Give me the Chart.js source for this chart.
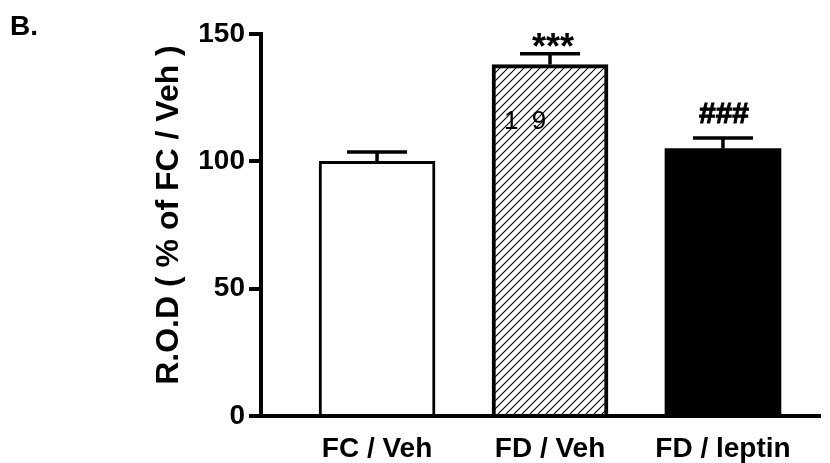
<!DOCTYPE html>
<html>
<head>
<meta charset="utf-8">
<script src="https://cdn.jsdelivr.net/npm/chart.js@4/dist/chart.umd.min.js"></script>
<style>
html,body{margin:0;padding:0;background:#fff;}
#wrap{width:830px;height:463px;position:relative;}
</style>
</head>
<body>
<div id="wrap"><canvas id="c" width="830" height="463"></canvas></div>
<script>
const categories = ['FC / Veh', 'FD / Veh', 'FD / leptin'];
const values = [100, 138, 105];
const sem = [3.7, 4.2, 4.2];
const marks = ['', '***', '###'];
const yTicks = [0, 50, 100, 150];
const yTitle = 'R.O.D ( % of FC / Veh )';
const panelLabel = 'B.';
const barNote = '1 9';

const FONT = '"Liberation Sans", Arial, Helvetica, sans-serif';

function hatch() {
  const s = 8;
  const p = document.createElement('canvas');
  p.width = s; p.height = s;
  const g = p.getContext('2d');
  g.fillStyle = '#fff'; g.fillRect(0, 0, s, s);
  g.strokeStyle = '#000'; g.lineWidth = 1.1;
  g.beginPath();
  g.moveTo(0, s); g.lineTo(s, 0);
  g.moveTo(-1, 1); g.lineTo(1, -1);
  g.moveTo(s - 1, s + 1); g.lineTo(s + 1, s - 1);
  g.stroke();
  return document.getElementById('c').getContext('2d').createPattern(p, 'repeat');
}

const extras = {
  id: 'extras',
  afterDatasetsDraw(chart) {
    const ctx = chart.ctx;
    const y = chart.scales.y;
    const meta = chart.getDatasetMeta(0);
    ctx.save();
    ctx.strokeStyle = '#000';
    ctx.lineWidth = 3.5;
    meta.data.forEach((bar, i) => {
      const top = y.getPixelForValue(values[i] + sem[i]);
      const base = y.getPixelForValue(values[i]);
      ctx.beginPath();
      ctx.moveTo(bar.x, base);
      ctx.lineTo(bar.x, top);
      ctx.moveTo(bar.x - 30, top);
      ctx.lineTo(bar.x + 30, top);
      ctx.stroke();
      ctx.fillStyle = '#000';
      ctx.textAlign = 'center';
      ctx.textBaseline = 'alphabetic';
      if (marks[i] === '***') {
        ctx.font = 'bold 36px ' + FONT;
        ctx.fillText(marks[i], bar.x + 3, top + 5);
      } else if (marks[i]) {
        ctx.font = 'bold 30px ' + FONT;
        ctx.lineWidth = 1;
        ctx.fillText(marks[i], bar.x + 1, top - 15);
        ctx.strokeText(marks[i], bar.x + 1, top - 15);
      }
    });
    const b1 = meta.data[1];
    ctx.font = '26px ' + FONT;
    ctx.textAlign = 'left';
    ctx.letterSpacing = '3px';
    ctx.fillText(barNote, b1.x - 46, 129);
    ctx.restore();
  },
  afterDraw(chart) {
    const ctx = chart.ctx;
    ctx.save();
    ctx.fillStyle = '#000';
    ctx.font = 'bold 28px ' + FONT;
    ctx.textAlign = 'left';
    ctx.textBaseline = 'alphabetic';
    ctx.fillText(panelLabel, 10, 35);
    ctx.translate(178, 215);
    ctx.rotate(-Math.PI / 2);
    ctx.textAlign = 'center';
    ctx.font = 'bold 32px ' + FONT;
    ctx.fillText(yTitle, 0, 0);
    ctx.restore();
  }
};

const chart = new Chart(document.getElementById('c'), {
  type: 'bar',
  data: {
    datasets: [{
      data: values.map((v, i) => ({ x: i + 1, y: v })),
      backgroundColor: ['#ffffff', hatch(), '#000000'],
      borderColor: '#000',
      borderWidth: [3, 4, 0],
      barThickness: 116,
      borderSkipped: 'start'
    }]
  },
  options: {
    responsive: false,
    animation: false,
    layout: { padding: { left: 0, right: 10, top: 34, bottom: 0 } },
    plugins: { legend: { display: false }, tooltip: { enabled: false } },
    scales: {
      x: {
        type: 'linear',
        offset: false,
        min: 0.329,
        max: 3.561,
        afterBuildTicks(s) { s.ticks = categories.map((c, i) => ({ value: i + 1 })); },
        afterFit(s) { s.height = 47; },
        grid: { display: false, offset: false },
        border: { display: true, color: '#000', width: 4 },
        ticks: {
          autoSkip: false,
          maxRotation: 0,
          padding: 8,
          color: '#000',
          font: { family: FONT, size: 28, weight: 'bold' },
          callback: (v) => categories[Math.round(v) - 1] || ''
        }
      },
      y: {
        min: 0,
        max: 150,
        afterBuildTicks(s) { s.ticks = yTicks.map(v => ({ value: v })); },
        afterFit(s) { s.width = 261; },
        grid: { drawOnChartArea: false, drawTicks: true, tickLength: 12, lineWidth: 4, color: '#000' },
        border: { display: true, color: '#000', width: 4 },
        ticks: {
          padding: 4,
          color: '#000',
          font: { family: FONT, size: 28, weight: 'bold' }
        }
      }
    }
  },
  plugins: [extras]
});
</script>
</body>
</html>
